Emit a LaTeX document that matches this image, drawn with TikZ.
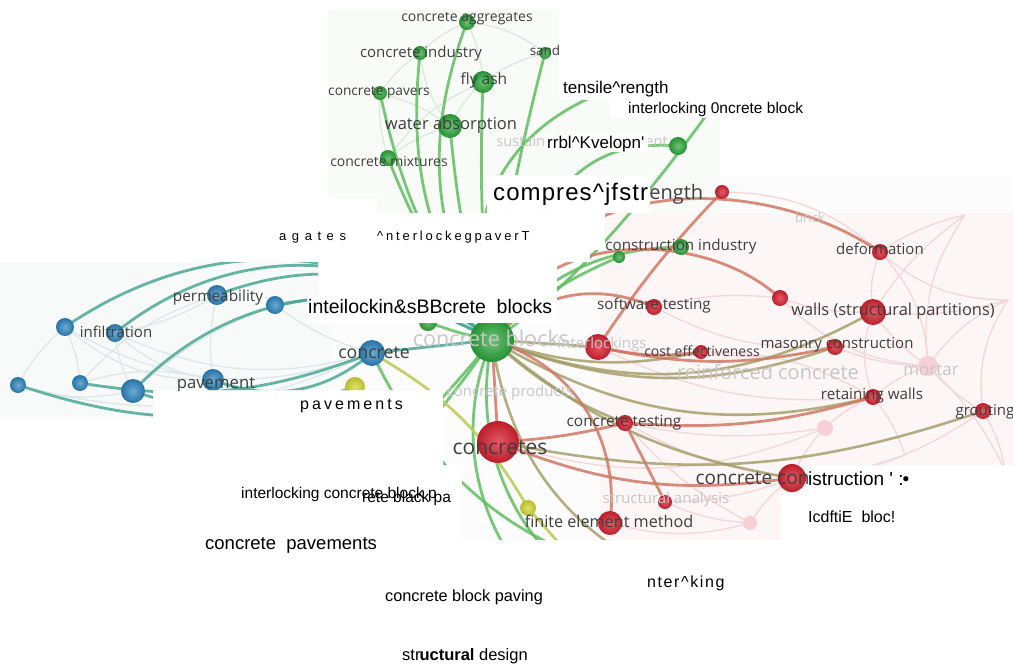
\documentclass[tikz,border=0pt]{standalone}
\usepackage{fontspec}
\setmainfont{Liberation Sans}
\newfontfamily\labfont{Open Sans}
\newcommand\fsz[1]{\fontsize{#1}{#1}\selectfont}
\definecolor{gnode}{RGB}{45,170,60}
\definecolor{rnode}{RGB}{220,35,50}
\definecolor{bnode}{RGB}{45,135,195}
\definecolor{ynode}{RGB}{205,210,50}
\definecolor{pnode}{RGB}{246,208,212}
\definecolor{gedge}{RGB}{95,190,95}
\definecolor{tedge}{RGB}{75,168,150}
\definecolor{oedge}{RGB}{160,155,100}
\definecolor{redge}{RGB}{210,120,100}
\definecolor{yedge}{RGB}{190,205,90}
\definecolor{labc}{RGB}{62,62,62}
\definecolor{fadec}{RGB}{198,198,198}
\definecolor{bgc}{RGB}{252,252,252}
\definecolor{bgl}{RGB}{248,250,250}
\definecolor{bgr}{RGB}{253,246,246}
\definecolor{bgg}{RGB}{249,251,249}
\definecolor{fl}{RGB}{222,231,232}
\definecolor{fr}{RGB}{245,214,216}
\definecolor{fg}{RGB}{216,236,216}
\tikzset{
  nd/.style={circle, inner sep=0pt, minimum size=#1, draw=none},
  gn/.style={nd=#1, inner color=gnode!70!white, outer color=gnode!85!black},
  rn/.style={nd=#1, inner color=rnode!75!white, outer color=rnode!85!black},
  bn/.style={nd=#1, inner color=bnode!70!white, outer color=bnode!85!black},
  yn/.style={nd=#1, inner color=ynode!70!white, outer color=ynode!90!black},
  pn/.style={nd=#1, fill=pnode},
  lab/.style={text=labc, inner sep=0pt, font=\labfont\fsz{#1}},
  flab/.style={text=fadec, inner sep=0pt, font=\labfont\fsz{#1}},
  ov/.style={text=black, inner sep=0pt, anchor=base west, font=\fsz{#1}},
  ge/.style={draw=gedge, line width=2.8pt, line cap=round, opacity=.85},
  te/.style={draw=tedge, line width=2.8pt, line cap=round, opacity=.85},
  oe/.style={draw=oedge, line width=2.6pt, line cap=round, opacity=.8},
  re/.style={draw=redge, line width=2.8pt, line cap=round, opacity=.85},
  ye/.style={draw=yedge, line width=2.8pt, line cap=round, opacity=.9},
  faint/.style={draw=#1, line width=1.3pt},
}
\begin{document}
\begin{tikzpicture}[x=1pt,y=-1pt]
\useasboundingbox (0,0) rectangle (1013,670);
\fill[white] (0,0) rectangle (1013,670);
% ---------- coordinates ----------
% green
\coordinate (cagg) at (467,22);
\coordinate (cind) at (420,53);
\coordinate (sand) at (545,53);
\coordinate (flyash) at (483,82);
\coordinate (cpav) at (380,93);
\coordinate (water) at (450,126);
\coordinate (cmix) at (388,158);
\coordinate (sust) at (678,146);
\coordinate (constind) at (681,247);
\coordinate (g2) at (619,257);
\coordinate (cblocks) at (492,340);
\coordinate (g3) at (428,322);
\coordinate (tens) at (615,88);
\coordinate (icb2) at (745,60);
% blue
\coordinate (b1) at (65,327);
\coordinate (infil) at (115,333);
\coordinate (perm) at (217,295);
\coordinate (b2) at (275,305);
\coordinate (concrete) at (372,353);
\coordinate (pavement) at (213,380);
\coordinate (b3) at (18,385);
\coordinate (b4) at (80,383);
\coordinate (b5) at (133,391);
% yellow
\coordinate (y1) at (355,387);
\coordinate (y2) at (528,508);
\coordinate (yend) at (565,550);
% red
\coordinate (comp) at (722,192);
\coordinate (deform) at (880,252);
\coordinate (r1) at (780,298);
\coordinate (soft) at (654,307);
\coordinate (walls) at (873,312);
\coordinate (interl) at (598,347);
\coordinate (cost) at (701,352);
\coordinate (mason) at (835,347);
\coordinate (mortar) at (928,366);
\coordinate (retain) at (873,397);
\coordinate (grout) at (983,411);
\coordinate (ctest) at (625,423);
\coordinate (concretes) at (498,442);
\coordinate (ccons) at (792,478);
\coordinate (struct) at (665,502);
\coordinate (fem) at (610,523);
\coordinate (f1) at (750,523);
\coordinate (f2) at (825,428);
\coordinate (fa) at (1008,300);
\coordinate (fb) at (965,215);
\coordinate (fc) at (1005,470);
\coordinate (fd) at (905,455);
% hidden (under white)
\coordinate (icb) at (340,495);
\coordinate (cpavs) at (290,544);
\coordinate (intk) at (683,583);
\coordinate (h1) at (640,615);
\coordinate (h2) at (610,640);

% ---------- network picture fragments ----------
\begin{scope}
\clip (328,10) rectangle (558,198)
      (377,175) rectangle (622,213)
      (622,175) rectangle (1013,213)
      (540,100) rectangle (610,120)
      (548,118) rectangle (720,175)
      (605,213) rectangle (1013,465)
      (590,250) rectangle (605,262)
      (557,262) rectangle (605,465)
      (0,262) rectangle (318,390)
      (0,323) rectangle (557,390)
      (0,390) rectangle (153,418)
      (443,390) rectangle (1013,465)
      (462,465) rectangle (807,495)
      (462,495) rectangle (780,540);
\fill[bgc] (0,0) rectangle (1013,670);
\fill[bgg] (328,0) rectangle (720,213);
\fill[bgl] (0,262) rectangle (330,420);
\fill[bgr] (600,213) rectangle (1013,540);
% faint background links
\foreach \a/\b/\c in {b1/b3/10,b1/b4/-10,b3/b5/15,infil/b5/10,infil/pavement/15,b1/pavement/20,
  b4/pavement/-15,perm/pavement/10,b2/concrete/10,b1/concrete/25,infil/concrete/20,b3/concrete/20,
  perm/infil/-10,b2/b5/10,perm/b4/15}
  \draw[faint=fl] (\a) to[bend right=\c] (\b);
\foreach \a/\b/\c in {walls/mortar/10,mortar/grout/10,retain/mortar/-10,mason/mortar/10,deform/walls/15,
  deform/mortar/-20,walls/retain/20,ctest/f2/10,ccons/f1/10,ccons/f2/-10,struct/f1/10,retain/f2/10,
  r1/walls/10,cost/mason/10,interl/cost/10,soft/r1/-10,comp/deform/-20,ctest/ccons/10,ccons/grout/15,
  fb/walls/10,fb/deform/10,fa/mortar/15,fa/walls/-10,fc/grout/10,fd/retain/10,fd/ccons/-10,
  fa/grout/20,fb/mortar/20,interl/retain/15,soft/mason/15,cost/retain/-15,struct/ccons/10,fem/f1/15,
  mortar/fc/-10,deform/fa/20,r1/mortar/20,concretes/f2/20,ctest/f1/10}
  \draw[faint=fr] (\a) to[bend right=\c] (\b);
\foreach \a/\b/\c in {cagg/cind/10,cind/cpav/10,cpav/cmix/10,flyash/water/10,water/cmix/10,
  sand/flyash/10,cagg/flyash/-10,cind/water/15,cagg/sand/-15,cpav/water/-10,flyash/cmix/15}
  \draw[faint=fg] (\a) to[bend right=\c] (\b);
% green links
\foreach \a/\b/\c in {cagg/cblocks/25,cind/cblocks/20,cpav/cblocks/12,cmix/cblocks/8,water/cblocks/6,
  flyash/cblocks/4,sand/cblocks/4,cblocks/constind/-25,cblocks/g2/-10,
  cblocks/cpavs/-10,cblocks/icb/-5,concrete/intk/28,cblocks/h1/40,cblocks/h2/45,g3/cblocks/5}
  \draw[ge] (\a) to[bend right=\c] (\b);
\draw[ge] (cblocks) .. controls (450,200) and (520,120) .. (tens);
\draw[ge] (cblocks) .. controls (540,170) and (600,140) .. (sust);
\draw[ge] (cblocks) .. controls (560,300) and (650,200) .. (icb2);
% teal links
\foreach \a/\b/\c in {cblocks/b1/36,cblocks/infil/40,cblocks/perm/30,cblocks/b2/20,cblocks/b5/38,
  pavement/concrete/30,concrete/cblocks/0,b3/y1/18,b4/concrete/15,b5/y1/20}
  \draw[te] (\a) to[bend right=\c] (\b);
% olive links
\foreach \a/\b/\c in {cblocks/walls/25,cblocks/cost/15,cblocks/mason/20,cblocks/retain/22,
  cblocks/ctest/10,cblocks/ccons/15,concretes/grout/15,cblocks/interl/0,cblocks/intk/30}
  \draw[oe] (\a) to[bend right=\c] (\b);
% red links
\draw[re] (cblocks) .. controls (540,170) and (760,170) .. (deform);
\draw[re] (cblocks) .. controls (530,230) and (700,225) .. (r1);
\foreach \a/\b/\c in {cblocks/soft/-35,cblocks/fem/-40,cblocks/concretes/0,interl/comp/-5,
  ctest/struct/0,concretes/ccons/15,ctest/retain/10,interl/cost/10,concretes/ctest/5,interl/mason/12}
  \draw[re] (\a) to[bend right=\c] (\b);
% yellow links
\draw[ye] (concrete) to[bend left=15] (y2);
\draw[ye] (y2) -- (yend);
% nodes
\foreach \p/\d in {cagg/16,cind/14,sand/12,flyash/22,cpav/14,water/24,cmix/16,sust/18,constind/16,g2/12,g3/18,cblocks/44}
  \node[gn=\d] (n\p) at (\p) {};
\foreach \p/\d in {b1/18,infil/18,perm/20,b2/18,concrete/26,pavement/22,b3/16,b4/16,b5/24}
  \node[bn=\d] (n\p) at (\p) {};
\foreach \p/\d in {y1/20,y2/16}
  \node[yn=\d] (n\p) at (\p) {};
\foreach \p/\d in {mortar/20,f1/14,f2/16}
  \node[pn=\d] (n\p) at (\p) {};
\foreach \p/\d in {comp/14,deform/16,r1/16,soft/16,walls/26,interl/26,cost/14,mason/16,retain/16,grout/16,ctest/16,concretes/42,ccons/28,struct/14,fem/24}
  \node[rn=\d] (n\p) at (\p) {};
% labels
\node[flab=21.6] (lcblocks) at (491,338) {concrete blocks};
\node[flab=14.6] (lsust) at (582,143) {sustainable development};
\node[flab=15] (linterl) at (602,345) {interlockings};
\node[flab=20] (lrein) at (768,372) {reinforced concrete};
\node[flab=17] (lmortar) at (931,370) {mortar};
\node[flab=15] (lcprod) at (510,393) {concrete products};
\node[flab=15] (lstruct) at (666,500) {structural analysis};
\node[flab=13] (lbrick) at (810,218) {brick};
\node[lab=14] (lcagg) at (467,19) {concrete aggregates};
\node[lab=15] (lcind) at (421,54) {concrete industry};
\node[lab=13.5] (lsand) at (545,50) {sand};
\node[lab=15.5] (lflyash) at (484,80) {fly ash};
\node[lab=13.7] (lcpav) at (379,93) {concrete pavers};
\node[lab=16.5] (lwater) at (451,125) {water absorption};
\node[lab=14] (lcmix) at (389,161) {concrete mixtures};
\node[lab=20] (lcomp) at (603,194) {compressive strength};
\node[lab=15.2] (lconstind) at (681,247) {construction industry};
\node[lab=15.4] (lperm) at (218,297) {permeability};
\node[lab=15] (linfil) at (116,332) {infiltration};
\node[lab=17.7] (lconcrete) at (374,353) {concrete};
\node[lab=16.7] (lpavement) at (216,385) {pavement};
\node[lab=15.2] (lsoft) at (654,306) {software testing};
\node[lab=15] (ldeform) at (880,249) {deformation};
\node[lab=16.4] (lwalls) at (893,311) {walls (structural partitions)};
\node[lab=14] (lcost) at (702,351) {cost effectiveness};
\node[lab=15] (lmason) at (837,345) {masonry construction};
\node[lab=15.2] (lretain) at (872,396) {retaining walls};
\node[lab=15] (lgrout) at (985,412) {grouting};
\node[lab=15.4] (lctest) at (624,423) {concrete testing};
\node[lab=21] (lconcretes) at (500,448) {concretes};
\node[lab=19] (lccons) at (792,478) {concrete construction};
\node[lab=16.2] (lfem) at (609,521) {finite element method};
\end{scope}

% ---------- white patches and overlaid text ----------
\fill[white] (487,175) rectangle (650,213);
\fill[white] (307,295) rectangle (557,323);
\fill[white] (545,133) rectangle (648,152);
\node[ov=17] (t1) at (563,93) {tensile\textasciicircum rength};
\node[ov=15.5] (t2) at (628,113) {interlocking 0ncrete block};
\node[ov=17] (t3) at (547,148) {rrbl\textasciicircum Kvelopn\textquotesingle};
\node[ov=24] (t4) at (493,200) {\addfontfeatures{LetterSpace=4.5}compres\textasciicircum jfstr};
\node[ov=13] (t5) at (279,240) {\addfontfeatures{LetterSpace=15}a g a t e s};
\node[ov=13] (t6) at (377,240) {\addfontfeatures{LetterSpace=22}\textasciicircum nterlockegpaverT};
\node[ov=19.5] (t7) at (308,313) {inteilockin\&sBBcrete\ \ blocks};
\node[ov=16] (t8) at (300,409) {\addfontfeatures{LetterSpace=19}pavements};
\node[ov=15.5] (t9) at (241,498) {interlocking concrete block p};
\node[ov=15.5] (t10) at (362,502) {rete black pa};
\node[ov=18.5] (t11) at (205,549) {concrete\ \ pavements};
\node[ov=16.3] (t12) at (385,601) {concrete block paving};
\node[ov=16] (t13) at (647,587) {\addfontfeatures{LetterSpace=10}nter\textasciicircum king};
\node[ov=16.5] (t14) at (402,660) {str\kern-1pt\textbf{uctural} design};
\node[ov=19] (t15) at (808,485) {istruction \textquotesingle\ :\kern-1pt•};
\node[ov=16] (t16) at (808,522) {IcdftiE\ \ bloc!};
\end{tikzpicture}
\end{document}
